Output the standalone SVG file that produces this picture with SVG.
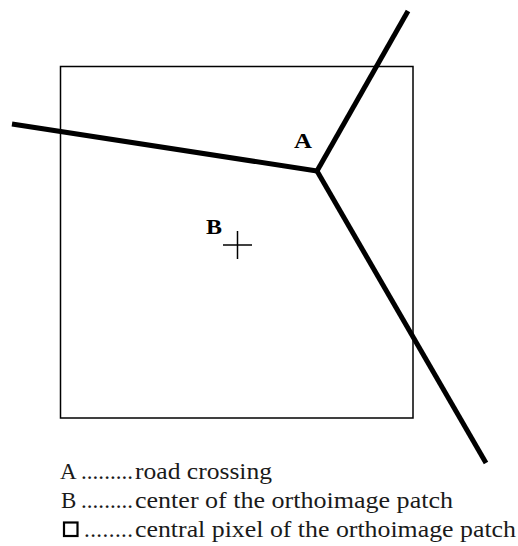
<svg xmlns="http://www.w3.org/2000/svg" width="518" height="546" viewBox="0 0 518 546">
<style>
.road{stroke:#000;stroke-width:5;fill:none;stroke-linecap:butt}
.lbl{font-family:"Liberation Serif",serif;font-weight:bold;font-size:21px;fill:#000}
.leg{font-family:"Liberation Serif",serif;font-size:23px;fill:#1a1a1a}
</style>
<rect width="518" height="546" fill="#fff"/>
<g id="patch"><rect x="60.5" y="66.5" width="352.5" height="351.5" fill="none" stroke="#000" stroke-width="1.5"/></g>
<g id="connectors">
<line class="road" x1="12" y1="124" x2="317" y2="171"/>
<line class="road" x1="408" y1="11" x2="317" y2="171"/>
<line class="road" x1="317" y1="171" x2="486" y2="463"/>
</g>
<g id="nodeA"><text class="lbl" x="294" y="148" textLength="18" lengthAdjust="spacingAndGlyphs">A</text></g>
<g id="nodeB"><text class="lbl" x="206" y="234" textLength="16" lengthAdjust="spacingAndGlyphs">B</text>
<line x1="223" y1="245" x2="252" y2="245" stroke="#000" stroke-width="1.5"/>
<line x1="237.5" y1="231" x2="237.5" y2="259" stroke="#000" stroke-width="1.5"/></g>
<g id="legend">
<text class="leg" x="60" y="479">A</text>
<text class="leg" x="81" y="479" textLength="52" lengthAdjust="spacing">.........</text>
<text class="leg" x="135" y="479" textLength="137" lengthAdjust="spacingAndGlyphs">road crossing</text>
<text class="leg" x="61" y="508">B</text>
<text class="leg" x="81" y="508" textLength="52" lengthAdjust="spacing">.........</text>
<text class="leg" x="135" y="508" textLength="318" lengthAdjust="spacingAndGlyphs">center of the orthoimage patch</text>
<rect x="64" y="522.5" width="13.5" height="13.5" fill="none" stroke="#000" stroke-width="2.2"/>
<text class="leg" x="84" y="537" textLength="49" lengthAdjust="spacing">........</text>
<text class="leg" x="135" y="537" textLength="381" lengthAdjust="spacingAndGlyphs">central pixel of the orthoimage patch</text>
</g>
</svg>
